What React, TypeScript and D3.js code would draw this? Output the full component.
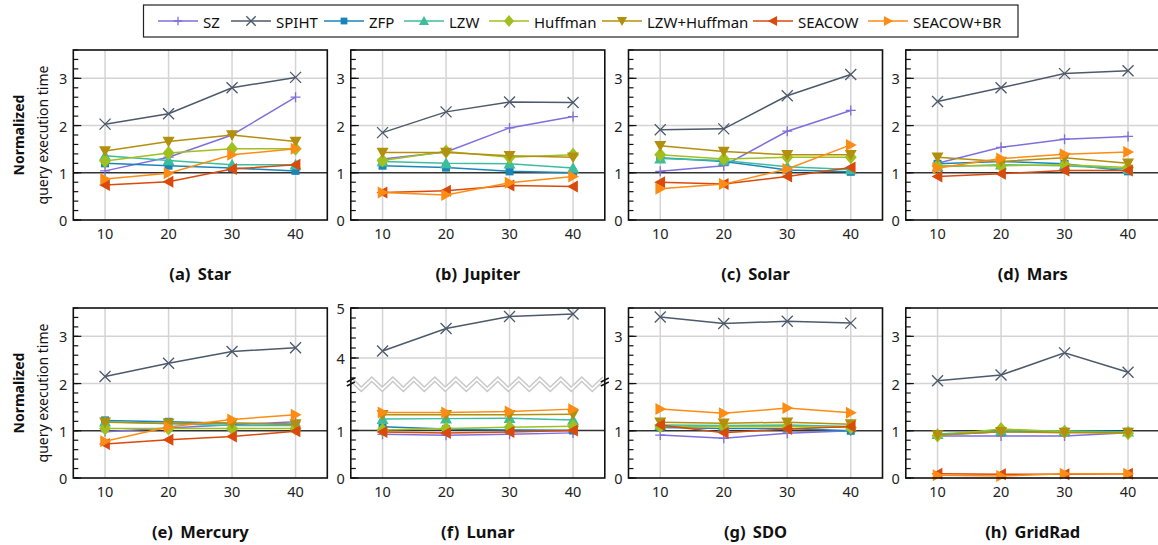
import React from "react";
import * as d3 from "d3";

// ---------------- DATA ----------------
const xValues = [10, 20, 30, 40];
const seriesNames = ["SZ", "SPIHT", "ZFP", "LZW", "Huffman", "LZW+Huffman", "SEACOW", "SEACOW+BR"];
const seriesColors = ["#7f6fdc", "#4d5a6b", "#1a86b8", "#3dbd9c", "#a0c020", "#b38f0e", "#d94a0c", "#fd8c14"];
const seriesMarkers = ["plus", "cross", "square", "triUp", "diamond", "triDown", "triLeft", "triRight"];
const panelTitles = ["(a)", "(b)", "(c)", "(d)", "(e)", "(f)", "(g)", "(h)"];
const datasetNames = ["Star", "Jupiter", "Solar", "Mars", "Mercury", "Lunar", "SDO", "GridRad"];
const yMajorTicks = [0, 1, 2, 3];
const lunarLowerTicks = [0, 1];
const lunarUpperTicks = [4, 5];

// series order: SZ, SPIHT, ZFP, LZW, Huffman, LZW+Huffman, SEACOW, SEACOW+BR
const starValues = [
  [1.04, 1.33, 1.8, 2.6],
  [2.03, 2.25, 2.8, 3.02],
  [1.2, 1.15, 1.1, 1.04],
  [1.36, 1.26, 1.17, 1.17],
  [1.25, 1.42, 1.51, 1.51],
  [1.46, 1.66, 1.8, 1.66],
  [0.74, 0.81, 1.08, 1.17],
  [0.87, 0.99, 1.38, 1.51],
];
const jupiterValues = [
  [1.29, 1.44, 1.95, 2.19],
  [1.85, 2.29, 2.5, 2.49],
  [1.15, 1.11, 1.03, 1.0],
  [1.24, 1.2, 1.19, 1.1],
  [1.26, 1.45, 1.33, 1.38],
  [1.43, 1.43, 1.36, 1.33],
  [0.58, 0.62, 0.73, 0.71],
  [0.58, 0.53, 0.79, 0.92],
];
const solarValues = [
  [1.03, 1.15, 1.88, 2.32],
  [1.91, 1.93, 2.63, 3.08],
  [1.32, 1.24, 1.06, 1.02],
  [1.3, 1.26, 1.13, 1.07],
  [1.38, 1.29, 1.33, 1.33],
  [1.57, 1.45, 1.38, 1.38],
  [0.8, 0.76, 0.92, 1.11],
  [0.66, 0.76, 1.08, 1.59],
];
const marsValues = [
  [1.2, 1.54, 1.71, 1.77],
  [2.51, 2.8, 3.1, 3.16],
  [1.19, 1.24, 1.19, 1.03],
  [1.13, 1.17, 1.15, 1.08],
  [1.15, 1.15, 1.17, 1.11],
  [1.33, 1.24, 1.32, 1.2],
  [0.92, 0.98, 1.05, 1.05],
  [1.1, 1.3, 1.39, 1.44],
];
const mercuryValues = [
  [0.98, 1.06, 1.13, 1.19],
  [2.15, 2.43, 2.68, 2.76],
  [1.22, 1.19, 1.16, 1.14],
  [1.19, 1.15, 1.11, 1.11],
  [1.05, 1.05, 1.05, 1.05],
  [1.18, 1.16, 1.16, 1.14],
  [0.72, 0.81, 0.88, 0.99],
  [0.78, 1.08, 1.24, 1.34],
];
const lunarValues = [
  [0.92, 0.9, 0.92, 0.95],
  [4.14, 4.59, 4.83, 4.88],
  [1.08, 1.03, 1.01, 1.0],
  [1.24, 1.25, 1.26, 1.22],
  [1.01, 1.04, 1.07, 1.09],
  [1.33, 1.33, 1.33, 1.34],
  [0.97, 0.95, 0.97, 1.0],
  [1.38, 1.38, 1.4, 1.45],
];
const sdoValues = [
  [0.91, 0.84, 0.95, 1.0],
  [3.41, 3.27, 3.32, 3.28],
  [1.07, 1.05, 1.05, 1.0],
  [1.12, 1.11, 1.12, 1.09],
  [1.09, 1.09, 1.09, 1.07],
  [1.18, 1.16, 1.18, 1.14],
  [1.12, 0.96, 1.04, 1.09],
  [1.46, 1.37, 1.48, 1.38],
];
const gridradValues = [
  [0.89, 0.89, 0.89, 0.96],
  [2.06, 2.18, 2.65, 2.24],
  [0.91, 0.98, 0.98, 0.98],
  [0.93, 1.0, 1.0, 0.98],
  [0.9, 1.04, 0.98, 0.95],
  [0.91, 0.98, 0.96, 0.96],
  [0.09, 0.08, 0.08, 0.09],
  [0.06, 0.04, 0.09, 0.09],
];
const panelValues = [starValues, jupiterValues, solarValues, marsValues, mercuryValues, lunarValues, sdoValues, gridradValues];

// ---------------- LAYOUT ----------------
const W = 1158;
const H = 545;
const FONT = "'Noto Sans', 'Open Sans', sans-serif";
const PANEL_W = 254;
const PANEL_H = 170;
const LEFTS = [73.3, 350.8, 628.5, 905.8];
const TOPS = [50, 308];

function Marker({ type, x, y, color, s = 1 }: any) {
  const r = 6 * s;
  switch (type) {
    case "plus":
      return (
        <path d={`M${x - 5 * s},${y}H${x + 5 * s}M${x},${y - 5 * s}V${y + 5 * s}`} stroke={color} strokeWidth={1.3} fill="none" />
      );
    case "cross":
      return (
        <path
          d={`M${x - 5.5 * s},${y - 5.5 * s}L${x + 5.5 * s},${y + 5.5 * s}M${x - 5.5 * s},${y + 5.5 * s}L${x + 5.5 * s},${y - 5.5 * s}`}
          stroke={color}
          strokeWidth={1.3}
          fill="none"
        />
      );
    case "square":
      return <rect x={x - 4 * s} y={y - 4 * s} width={8 * s} height={8 * s} fill={color} />;
    case "triUp":
      return <path d={`M${x},${y - r}L${x + r},${y + 0.8 * r}L${x - r},${y + 0.8 * r}Z`} fill={color} />;
    case "triDown":
      return <path d={`M${x},${y + r}L${x + r},${y - 0.8 * r}L${x - r},${y - 0.8 * r}Z`} fill={color} />;
    case "triLeft":
      return <path d={`M${x - r},${y}L${x + 0.8 * r},${y - r}L${x + 0.8 * r},${y + r}Z`} fill={color} />;
    case "triRight":
      return <path d={`M${x + r},${y}L${x - 0.8 * r},${y - r}L${x - 0.8 * r},${y + r}Z`} fill={color} />;
    case "diamond":
      return <path d={`M${x},${y - 7 * s}L${x + 6 * s},${y}L${x},${y + 7 * s}L${x - 6 * s},${y}Z`} fill={color} />;
    default:
      return null;
  }
}

function Panel({ idx }: { idx: number }) {
  const col = idx % 4;
  const row = Math.floor(idx / 4);
  const left = LEFTS[col];
  const top = TOPS[row];
  const right = left + PANEL_W;
  const bottom = top + PANEL_H;
  const broken = datasetNames[idx] === "Lunar";
  const breakY = bottom - 95;

  const x = d3.scaleLinear().domain([5, 45]).range([left, right]);
  const y = broken
    ? d3.scaleLinear().domain([0, 2, 3.5, 5]).range([bottom, breakY, breakY, top])
    : d3.scaleLinear().domain([0, 3.6]).range([bottom, top]);

  const majors = broken ? [...lunarLowerTicks, ...lunarUpperTicks] : yMajorTicks;
  const minors = broken
    ? [...d3.range(0, 1.81, 0.2), ...d3.range(3.6, 5.01, 0.2)]
    : d3.range(0, 3.61, 0.2);
  const gridYs = majors.filter((v) => v !== 0 && v !== 1 && y(v) > top + 1);

  const values = panelValues[idx];
  const line = d3
    .line<number>()
    .x((_, i) => x(xValues[i]))
    .y((d) => y(d));

  // zigzag for broken axis
  let zig: any = null;
  if (broken) {
    const period = 21;
    const pts: [number, number][] = [];
    let k = 0;
    for (let px = left; px <= right + 0.1; px += period / 2) {
      pts.push([Math.min(px, right), k % 2 === 0 ? breakY - 6 : breakY + 4]);
      k++;
    }
    const topLine = pts;
    const botLine = pts.map(([a, b]) => [a, b + 4.5] as [number, number]);
    const lg = d3.line();
    const poly = [...topLine, ...botLine.slice().reverse()];
    zig = (
      <g>
        <path d={lg(poly as any) + "Z"} fill="#fff" stroke="none" />
        <path d={lg(topLine as any) as string} fill="none" stroke="#c8c8c8" strokeWidth={1.5} />
        <path d={lg(botLine as any) as string} fill="none" stroke="#c8c8c8" strokeWidth={1.5} />
        {[left, right].map((ax, i) => (
          <path
            key={i}
            d={`M${ax - 4},${breakY - 1}L${ax + 4},${breakY - 5}M${ax - 4},${breakY + 3}L${ax + 4},${breakY - 1}`}
            stroke="#111"
            strokeWidth={1.4}
          />
        ))}
      </g>
    );
  }

  return (
    <g>
      {/* vertical gridlines */}
      {xValues.map((v) => (
        <line key={"gx" + v} x1={x(v)} x2={x(v)} y1={top} y2={bottom} stroke="#d4d4d4" strokeWidth={1.5} />
      ))}
      {gridYs.map((v) => (
        <line key={"gy" + v} x1={left} x2={right} y1={y(v)} y2={y(v)} stroke="#d4d4d4" strokeWidth={1.5} />
      ))}
      <line x1={left} x2={right} y1={y(1)} y2={y(1)} stroke="#333" strokeWidth={1.5} />
      {zig}
      {/* series */}
      {values.map((vals, si) => (
        <g key={"s" + si}>
          <path d={line(vals) as string} fill="none" stroke={seriesColors[si]} strokeWidth={1.5} />
          {vals.map((v, i) => (
            <Marker key={i} type={seriesMarkers[si]} x={x(xValues[i])} y={y(v)} color={seriesColors[si]} />
          ))}
        </g>
      ))}
      {/* frame */}
      <rect x={left} y={top} width={PANEL_W} height={PANEL_H} fill="none" stroke="#111" strokeWidth={1.6} />
      {/* y ticks */}
      {minors.map((v, i) => (
        <line key={"mt" + i} x1={left} x2={left + 5} y1={y(v)} y2={y(v)} stroke="#111" strokeWidth={1.2} />
      ))}
      {majors.map((v) => (
        <g key={"mj" + v}>
          <line x1={left} x2={left + 8} y1={y(v)} y2={y(v)} stroke="#111" strokeWidth={1.2} />
          <text x={left - 6} y={y(v)} textAnchor="end" dominantBaseline="central" fontSize={14.5} fill="#222" fontFamily={FONT}>
            {v}
          </text>
        </g>
      ))}
      {/* x tick labels */}
      {xValues.map((v) => (
        <text key={"xl" + v} x={x(v)} y={bottom + 13} textAnchor="middle" dominantBaseline="central" fontSize={14.5} fill="#222" fontFamily={FONT}>
          {v}
        </text>
      ))}
      {/* title */}
      <text x={(left + right) / 2} y={bottom + 53} textAnchor="middle" dominantBaseline="central" fontSize={16.5} fontWeight="bold" fill="#111" fontFamily={FONT}>
        {panelTitles[idx] + " "}
        <tspan dx={3}>{datasetNames[idx]}</tspan>
      </text>
      {/* y label */}
      {col === 0 && (
        <g>
          <text
            transform={`translate(18,${(top + bottom) / 2}) rotate(-90)`}
            textAnchor="middle"
            dominantBaseline="central"
            fontSize={14}
            fontWeight="bold"
            fill="#111"
            fontFamily={FONT}
          >
            Normalized
          </text>
          <text
            transform={`translate(42,${(top + bottom) / 2}) rotate(-90)`}
            textAnchor="middle"
            dominantBaseline="central"
            fontSize={14}
            fill="#111"
            fontFamily={FONT}
          >
            query execution time
          </text>
        </g>
      )}
    </g>
  );
}

const LEGEND_X = [158, 231, 324, 404, 489, 602, 753, 868];

function Legend() {
  return (
    <g>
      <rect x={143.5} y={5} width={874.5} height={32} fill="#fff" stroke="#222" strokeWidth={1.2} />
      {seriesNames.map((name, i) => {
        const x0 = LEGEND_X[i];
        return (
          <g key={name}>
            <line x1={x0} x2={x0 + 40} y1={21} y2={21} stroke={seriesColors[i]} strokeWidth={1.5} />
            <Marker type={seriesMarkers[i]} x={x0 + 20} y={21} color={seriesColors[i]} s={0.85} />
            <text x={x0 + 45} y={21.5} dominantBaseline="central" fontSize={15} fill="#111" fontFamily={FONT}>
              {name}
            </text>
          </g>
        );
      })}
    </g>
  );
}

export default function App() {
  return (
    <svg
      width={W}
      height={H}
      viewBox={`0 0 ${W} ${H}`}
      style={{ position: "absolute", left: 0, top: 0, background: "#fff" }}
    >
      <rect width={W} height={H} fill="#fff" />
      {datasetNames.map((_, i) => (
        <Panel key={i} idx={i} />
      ))}
      <Legend />
    </svg>
  );
}
